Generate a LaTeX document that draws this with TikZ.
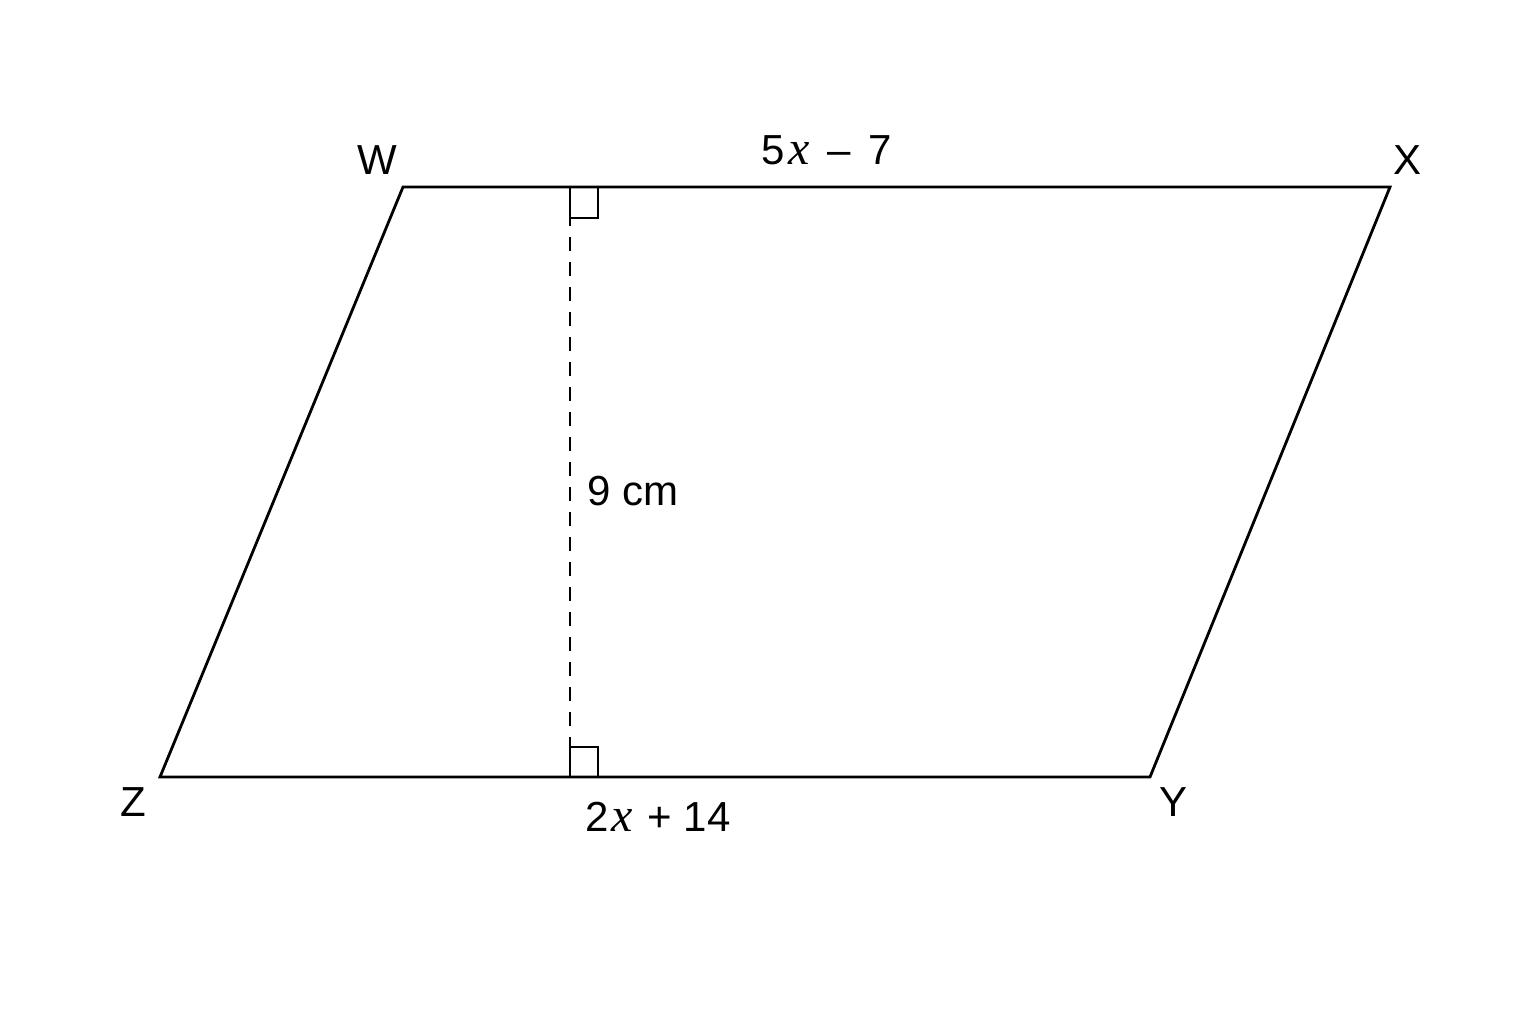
\documentclass[tikz,border=0pt]{standalone}
\usepackage{fontspec}
\setmainfont{Liberation Sans}
\newfontfamily\varfont{Liberation Serif}
\newcommand{\vx}{{\varfont\itshape\fontsize{24}{28}\selectfont x}}
\begin{document}
\begin{tikzpicture}[x=0.5pt,y=-0.5pt,
  edge/.style={line width=1.4pt, line join=miter},
  heightline/.style={line width=1.1pt, dash pattern=on 7pt off 5.5pt},
  rightmark/.style={line width=1.1pt},
  lbl/.style={font=\fontsize{21}{25}\selectfont, inner sep=0pt}]
\useasboundingbox (0,0) rectangle (1536,1024);
\fill[white] (0,0) rectangle (1536,1024);
\coordinate (W) at (403,187);
\coordinate (X) at (1390,187);
\coordinate (Y) at (1150,777);
\coordinate (Z) at (160,777);
\coordinate (Ht) at (570,187);
\coordinate (Hb) at (570,777);
\draw[edge] (W) -- (X) -- (Y) -- (Z) -- cycle;
\draw[heightline] (Ht) -- (Hb);
\draw[rightmark] (Ht) -- ++(0,31) -- ++(28,0) -- ++(0,-31);
\draw[rightmark] (Hb) -- ++(0,-30) -- ++(28,0) -- ++(0,30);
\node[lbl] (lW) at (377,160) {W};
\node[lbl] (lX) at (1407,160) {X};
\node[lbl] (lY) at (1173,802) {Y};
\node[lbl] (lZ) at (133,802) {Z};
\node[lbl] (top) at (827,150) {5\kern1.5pt\vx\hspace{9pt}–\hspace{9pt}7};
\node[lbl] (mid) at (633,491) {9 cm};
\node[lbl] (bot) at (658,817) {2\kern1.5pt\vx\hspace{7pt}+\hspace{6pt}14};
\end{tikzpicture}
\end{document}
